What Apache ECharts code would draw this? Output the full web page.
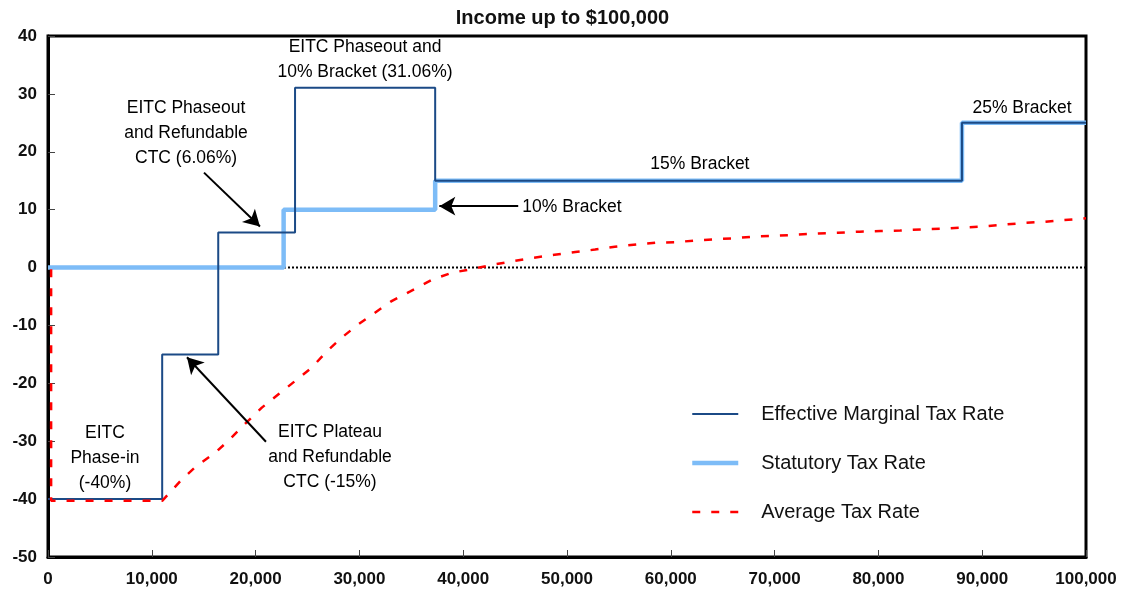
<!DOCTYPE html>
<html><head><meta charset="utf-8">
<script src="https://cdn.jsdelivr.net/npm/echarts@6/dist/echarts.min.js"></script>
<style>html,body{margin:0;padding:0;background:#fff}#c{width:1125px;height:594px}</style>
</head><body><div id="c"></div>
<script>
// ---- Data ----
const titleText = 'Income up to $100,000';
const seriesNames = ['Effective Marginal Tax Rate', 'Statutory Tax Rate', 'Average Tax Rate'];

// Effective marginal tax rate (step changes at each income)
const emtrIncome = [0, 11000, 16400, 23800, 37300, 88050, 100000];
const emtrRate   = [-40, -15, 6.06, 31.06, 15, 25, 25];

// Statutory tax rate
const statIncome = [0, 22700, 37300, 88050, 100000];
const statRate   = [0, 10, 15, 25, 25];

// Average tax rate
const avgIncome = [300, 300, 11000, 12900, 14300, 16100, 17500, 19100, 20600, 22200, 23800, 25400, 26900, 28300, 29900, 31500, 33100, 34900, 37000, 38900, 41000, 42900, 44800, 46800, 48800, 50800, 52700, 54600, 56700, 58600, 60600, 62500, 64400, 66400, 68300, 70300, 72300, 74200, 76100, 78200, 80200, 82100, 84200, 86100, 88000, 90000, 91900, 94000, 95900, 97800, 100000];
const avgRate   = [-0.3, -40.3, -40.3, -36.6, -34.3, -32.0, -29.7, -26.8, -24.2, -21.9, -19.6, -17.3, -14.4, -12.1, -9.8, -7.8, -5.8, -4.1, -2.1, -0.9, -0.2, 0.5, 1.1, 1.7, 2.2, 2.7, 3.1, 3.6, 4.0, 4.3, 4.4, 4.7, 4.9, 5.1, 5.4, 5.5, 5.7, 5.9, 6.0, 6.2, 6.3, 6.4, 6.6, 6.7, 6.9, 7.1, 7.4, 7.7, 7.9, 8.2, 8.5];

// Zero reference line
const zeroIncome = [0, 100000];
const zeroRate = [0, 0];

// Axis settings
const xMin = 0, xMax = 100000, xStep = 10000;
const yMin = -50, yMax = 40, yStep = 10;

// Annotations (data coordinates)
const noteTexts = [
  'EITC Phaseout and\n10% Bracket (31.06%)',
  'EITC Phaseout\nand Refundable\nCTC (6.06%)',
  '10% Bracket',
  '15% Bracket',
  '25% Bracket',
  'EITC\nPhase-in\n(-40%)',
  'EITC Plateau\nand Refundable\nCTC (-15%)'
];
const noteX = [30540, 13300, 45700, 62800, 93840, 5490, 27170];
const noteY = [35.9, 23.3, 10.4, 17.8, 27.6, -33.0, -32.8];
const noteAlign = ['center', 'center', 'left', 'center', 'center', 'center', 'center'];

// Arrows: from -> to (data coordinates)
const arrowFromX = [15030, 45300, 21000];
const arrowFromY = [16.4, 10.6, -30.1];
const arrowToX   = [20420, 37700, 13390];
const arrowToY   = [7.1, 10.6, -15.5];

// ---- Build ----
const FONT = "'Liberation Sans', Arial, sans-serif";
const zip = (a, b) => a.map((v, i) => [v, b[i]]);

const chart = echarts.init(document.getElementById('c'), null, {renderer: 'canvas'});

const option = {
  backgroundColor: '#fff',
  animation: false,
  title: {
    text: titleText, left: 'center', top: 3,
    textStyle: {fontFamily: FONT, fontSize: 20, fontWeight: 'bold', color: '#111'}
  },
  grid: {
    left: 48, right: 39, top: 36, bottom: 37,
    show: true, borderColor: '#000', borderWidth: 3, backgroundColor: 'transparent'
  },
  legend: {
    data: seriesNames,
    orient: 'vertical',
    left: 690, top: 404, padding: 0,
    itemWidth: 46, itemHeight: 14, itemGap: 29,
    itemStyle: {opacity: 0},
    lineStyle: {width: 'inherit'},
    textStyle: {fontFamily: FONT, fontSize: 20, lineHeight: 14, color: '#111', padding: [0, 0, 0, 18]},
    selectedMode: false
  },
  xAxis: {
    type: 'value', min: xMin, max: xMax, interval: xStep,
    axisLine: {show: true, onZero: false, lineStyle: {color: '#000', width: 3}},
    axisTick: {show: true, inside: true, length: 7, lineStyle: {color: '#444', width: 1}},
    splitLine: {show: false},
    axisLabel: {
      fontFamily: FONT, fontSize: 17, fontWeight: 'bold', color: '#111', margin: 14,
      formatter: v => v.toLocaleString('en-US')
    }
  },
  yAxis: {
    type: 'value', min: yMin, max: yMax, interval: yStep,
    axisLine: {show: true, onZero: false, lineStyle: {color: '#000', width: 3}},
    axisTick: {show: true, inside: true, length: 7, lineStyle: {color: '#444', width: 1}},
    splitLine: {show: false},
    axisLabel: {fontFamily: FONT, fontSize: 17, fontWeight: 'bold', color: '#111', margin: 11}
  },
  series: [
    {
      name: 'zero', type: 'line', data: zip(zeroIncome, zeroRate), symbol: 'none', z: 1,
      lineStyle: {color: '#000', width: 2, type: [2, 2]},
      markLine: {
        silent: true, symbol: ['none', 'arrow'], symbolSize: [14, 16],
        label: {show: false},
        lineStyle: {color: '#000', width: 2, type: 'solid'},
        data: arrowFromX.map((x, i) => [
          {coord: [x, arrowFromY[i]]},
          {coord: [arrowToX[i], arrowToY[i]]}
        ])
      }
    },
    {
      name: seriesNames[1], type: 'line', step: 'end', data: zip(statIncome, statRate),
      symbol: 'none', z: 2,
      lineStyle: {color: '#7DBCF7', width: 4.5}, itemStyle: {color: '#7DBCF7'}
    },
    {
      name: seriesNames[0], type: 'line', step: 'end', data: zip(emtrIncome, emtrRate),
      symbol: 'none', z: 3,
      lineStyle: {color: '#1B4A86', width: 2}, itemStyle: {color: '#1B4A86'}
    },
    {
      name: seriesNames[2], type: 'line', data: zip(avgIncome, avgRate),
      symbol: 'none', z: 4,
      lineStyle: {color: '#FF0000', width: 2.5, type: [8, 11]}, itemStyle: {color: '#FF0000'}
    }
  ]
};
chart.setOption(option);

// Place annotation texts using data -> pixel conversion
const graphics = noteTexts.map((t, i) => {
  const p = chart.convertToPixel({gridIndex: 0}, [noteX[i], noteY[i]]);
  return {
    type: 'text', x: p[0], y: p[1], z: 10,
    style: {
      text: t, fontFamily: FONT, fontSize: 17.5, fill: '#000', lineHeight: 25,
      align: noteAlign[i], verticalAlign: 'middle'
    }
  };
});
chart.setOption({graphic: graphics});
</script>
</body></html>
